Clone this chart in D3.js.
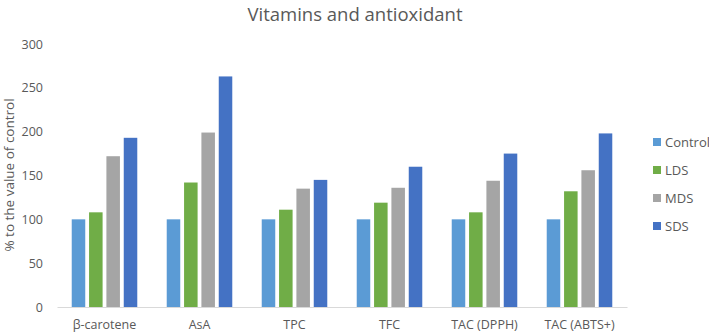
<!DOCTYPE html>
<html>
<head>
<meta charset="utf-8">
<script src="https://cdn.jsdelivr.net/npm/d3@7"></script>
<style>
  body { margin: 0; background: #fff; }
  text { font-family: "Open Sans", "Noto Sans", sans-serif; fill: #595959; }
</style>
</head>
<body>
<div id="chart"></div>
<script>
// data
var categories = ["β-carotene", "AsA", "TPC", "TFC", "TAC (DPPH)", "TAC (ABTS+)"];
var seriesNames = ["Control", "LDS", "MDS", "SDS"];
var control = [100, 100, 100, 100, 100, 100];
var lds = [108, 142, 111, 119, 108, 132];
var mds = [172, 199, 135, 136, 144, 156];
var sds = [193, 263, 145, 160, 175, 198];
var yTicks = [0, 50, 100, 150, 200, 250, 300];
var colors = ["#5B9BD5", "#70AD47", "#A5A5A5", "#4472C4"];

var seriesValues = [control, lds, mds, sds];

var width = 709, height = 334;
var plot = { left: 57, right: 627, top: 44, bottom: 307 };

var svg = d3.select("#chart")
  .append("svg")
    .attr("width", width)
    .attr("height", height);

// title
svg.append("text")
  .attr("x", 355)
  .attr("y", 21)
  .attr("text-anchor", "middle")
  .attr("font-size", "18.5px")
  .text("Vitamins and antioxidant");

var x = d3.scaleBand()
  .domain(categories)
  .range([plot.left, plot.right])
  .paddingInner(0.31)
  .paddingOuter(0.155);

var xs = d3.scaleBand()
  .domain(seriesNames)
  .range([0, x.bandwidth()])
  .paddingInner(0.22);

var y = d3.scaleLinear()
  .domain([0, 300])
  .range([plot.bottom, plot.top]);

// y axis labels (no axis line in the original)
var yAxis = d3.axisLeft(y)
  .tickValues(yTicks)
  .tickSize(0)
  .tickPadding(0);
var yg = svg.append("g")
  .attr("transform", "translate(43,0)")
  .call(yAxis);
yg.select(".domain").remove();
yg.selectAll("text")
  .attr("font-size", "12.5px")
  .attr("fill", "#595959")
  .style("font-family", "'Open Sans', sans-serif");

// bars
var groups = svg.selectAll("g.cat")
  .data(categories)
  .enter()
  .append("g")
    .attr("class", "cat")
    .attr("transform", function(d) { return "translate(" + x(d) + ",0)"; });

groups.selectAll("rect")
  .data(function(d, i) {
    return seriesNames.map(function(s, j) {
      return { series: s, value: seriesValues[j][i], color: colors[j] };
    });
  })
  .enter()
  .append("rect")
    .attr("x", function(d) { return xs(d.series); })
    .attr("y", function(d) { return y(d.value); })
    .attr("width", xs.bandwidth())
    .attr("height", function(d) { return y(0) - y(d.value); })
    .attr("fill", function(d) { return d.color; });

// x axis
var xAxis = d3.axisBottom(x)
  .tickSize(0)
  .tickPadding(13);
var xg = svg.append("g")
  .attr("transform", "translate(0," + plot.bottom + ")")
  .call(xAxis);
xg.select(".domain")
  .attr("stroke", "#D9D9D9")
  .attr("stroke-width", 1);
xg.selectAll("text")
  .attr("font-size", "12.5px")
  .attr("fill", "#595959")
  .style("font-family", "'Open Sans', sans-serif");

// y title
svg.append("text")
  .attr("transform", "translate(14," + 175 + ") rotate(-90)")
  .attr("text-anchor", "middle")
  .attr("font-size", "13.5px")
  .text("% to the value of control");

// legend
var legend = svg.selectAll("g.legend")
  .data(seriesNames)
  .enter()
  .append("g")
    .attr("class", "legend")
    .attr("transform", function(d, i) { return "translate(653," + (142 + i * 28) + ")"; });

legend.append("rect")
  .attr("x", 0)
  .attr("y", -4)
  .attr("width", 8)
  .attr("height", 8)
  .attr("fill", function(d, i) { return colors[i]; });

legend.append("text")
  .attr("x", 12)
  .attr("y", 0)
  .attr("dy", "0.35em")
  .attr("font-size", "13px")
  .text(function(d) { return d; });
</script>
</body>
</html>
